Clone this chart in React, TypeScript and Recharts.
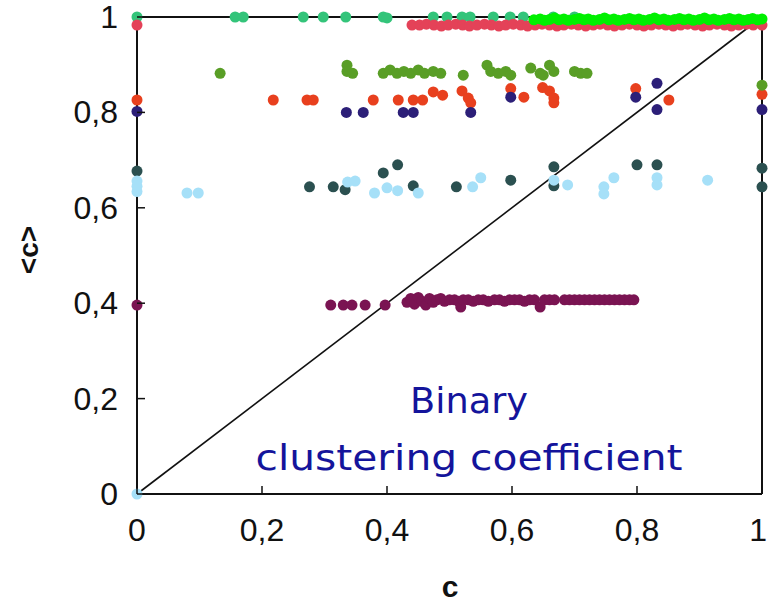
import React from "react";
import {
  ScatterChart,
  Scatter,
  XAxis,
  YAxis,
  ReferenceLine,
} from "recharts";

type Pt = [number, number];

// clustering coefficient c vs. average <c>, one list per network
const tealPts: Pt[] = [
  [0, 1], [0.157, 1], [0.17, 1], [0.266, 1], [0.298, 1], [0.334, 1],
  [0.394, 1], [0.4, 0.998], [0.474, 1], [0.496, 1], [0.52, 1], [0.533, 1],
  [0.57, 1], [0.597, 1], [0.618, 1], [0.666, 1], [0.7, 1],
];

const crimsonPts: Pt[] = [
  [0, 0.983], [0.44, 0.983], [0.452, 0.983], [0.463, 0.985], [0.475, 0.983],
  [0.487, 0.981], [0.498, 0.983], [0.51, 0.985], [0.521, 0.983], [0.532, 0.981],
  [0.544, 0.983], [0.556, 0.985], [0.567, 0.983], [0.579, 0.981], [0.59, 0.983],
  [0.602, 0.985], [0.614, 0.983], [0.625, 0.981], [0.637, 0.983], [0.648, 0.985],
  [0.66, 0.983], [0.672, 0.981], [0.683, 0.983], [0.695, 0.985], [0.706, 0.983],
  [0.718, 0.981], [0.73, 0.983], [0.741, 0.985], [0.753, 0.983], [0.764, 0.981],
  [0.776, 0.983], [0.788, 0.985], [0.8, 0.983], [0.811, 0.981], [0.823, 0.983],
  [0.835, 0.985], [0.846, 0.983], [0.858, 0.981], [0.87, 0.983], [0.881, 0.985],
  [0.893, 0.983], [0.905, 0.981], [0.916, 0.983], [0.928, 0.985], [0.94, 0.983],
  [0.951, 0.981], [0.963, 0.983], [0.975, 0.985], [0.986, 0.983], [1, 0.983],
];

const greenPts: Pt[] = [
  [0.635, 0.994], [0.645, 0.996], [0.652, 0.993], [0.66, 0.995], [0.668, 0.998],
  [0.675, 0.994], [0.683, 0.996], [0.69, 0.993], [0.7, 0.995], [0.708, 0.997],
  [0.715, 0.994], [0.722, 0.996], [0.73, 0.993], [0.74, 0.995], [0.748, 0.998],
  [0.755, 0.994], [0.763, 0.996], [0.77, 0.993], [0.78, 0.995], [0.788, 0.997],
  [0.795, 0.994], [0.803, 0.996], [0.81, 0.993], [0.82, 0.995], [0.828, 0.998],
  [0.835, 0.994], [0.843, 0.996], [0.85, 0.993], [0.86, 0.995], [0.868, 0.997],
  [0.875, 0.994], [0.883, 0.996], [0.89, 0.993], [0.9, 0.995], [0.908, 0.998],
  [0.915, 0.994], [0.923, 0.996], [0.93, 0.993], [0.94, 0.995], [0.948, 0.997],
  [0.955, 0.994], [0.963, 0.996], [0.97, 0.993], [0.978, 0.995], [0.985, 0.997],
  [0.993, 0.994], [1, 0.996],
];

const olivePts: Pt[] = [
  [0.133, 0.882], [0.336, 0.899], [0.336, 0.886], [0.345, 0.882],
  [0.394, 0.882], [0.405, 0.889], [0.416, 0.882], [0.427, 0.886], [0.438, 0.882],
  [0.45, 0.889], [0.46, 0.882], [0.474, 0.886], [0.486, 0.882], [0.522, 0.878],
  [0.56, 0.899], [0.566, 0.886], [0.578, 0.882], [0.59, 0.886], [0.598, 0.878],
  [0.63, 0.893], [0.645, 0.882], [0.65, 0.878], [0.66, 0.899], [0.667, 0.886],
  [0.7, 0.886], [0.71, 0.882], [0.72, 0.882], [1, 0.857],
];

const orangePts: Pt[] = [
  [0, 0.826], [0.218, 0.826], [0.272, 0.826], [0.282, 0.826], [0.378, 0.826],
  [0.418, 0.826], [0.442, 0.826], [0.457, 0.826], [0.474, 0.843], [0.489, 0.836],
  [0.52, 0.845], [0.53, 0.83], [0.534, 0.82], [0.598, 0.85], [0.619, 0.832],
  [0.649, 0.852], [0.66, 0.845], [0.667, 0.83], [0.667, 0.82], [0.798, 0.85],
  [0.851, 0.826], [1, 0.838],
];

const navyPts: Pt[] = [
  [0, 0.802], [0.335, 0.8], [0.362, 0.8], [0.426, 0.8], [0.442, 0.8],
  [0.534, 0.8], [0.598, 0.832], [0.798, 0.832], [0.832, 0.861], [0.832, 0.806],
  [1, 0.806],
];

const slatePts: Pt[] = [
  [0, 0.677], [0.276, 0.644], [0.314, 0.644], [0.333, 0.638], [0.394, 0.673],
  [0.417, 0.69], [0.442, 0.646], [0.511, 0.644], [0.598, 0.658], [0.667, 0.686],
  [0.667, 0.646], [0.8, 0.69], [0.832, 0.69], [1, 0.683], [1, 0.644],
];

const skyPts: Pt[] = [
  [0, 0], [0, 0.656], [0, 0.645], [0, 0.634], [0.08, 0.631], [0.098, 0.631],
  [0.337, 0.654], [0.349, 0.656], [0.38, 0.631], [0.4, 0.642], [0.417, 0.636],
  [0.45, 0.631], [0.537, 0.644], [0.55, 0.663], [0.667, 0.658], [0.689, 0.648],
  [0.747, 0.644], [0.747, 0.629], [0.763, 0.663], [0.832, 0.663], [0.832, 0.648],
  [0.913, 0.658],
];

const purplePts: Pt[] = [
  [0, 0.396], [0.31, 0.396], [0.33, 0.396], [0.344, 0.396], [0.365, 0.396],
  [0.397, 0.396], [0.432, 0.402], [0.438, 0.41], [0.444, 0.398], [0.45, 0.412],
  [0.456, 0.404], [0.462, 0.396], [0.468, 0.41], [0.474, 0.402], [0.48, 0.407],
  [0.486, 0.41], [0.492, 0.404], [0.5, 0.407], [0.508, 0.407], [0.515, 0.404],
  [0.518, 0.392], [0.522, 0.407], [0.53, 0.407], [0.538, 0.404], [0.546, 0.407],
  [0.554, 0.407], [0.562, 0.404], [0.572, 0.407], [0.58, 0.407], [0.588, 0.404],
  [0.596, 0.407], [0.604, 0.407], [0.612, 0.407], [0.62, 0.404], [0.628, 0.407],
  [0.636, 0.407], [0.645, 0.392], [0.652, 0.407], [0.66, 0.407], [0.668, 0.407],
  [0.684, 0.407], [0.692, 0.407], [0.7, 0.407], [0.708, 0.407], [0.716, 0.407],
  [0.724, 0.407], [0.732, 0.407], [0.74, 0.407], [0.748, 0.407], [0.756, 0.407],
  [0.764, 0.407], [0.772, 0.407], [0.78, 0.407], [0.788, 0.407], [0.795, 0.407],
];

const axisTicks = [0, 0.2, 0.4, 0.6, 0.8, 1];

const series: { name: string; pts: Pt[]; color: string }[] = [
  { name: "purple", pts: purplePts, color: "#7a1452" },
  { name: "slate", pts: slatePts, color: "#2b5050" },
  { name: "sky", pts: skyPts, color: "#a6e0f8" },
  { name: "orange", pts: orangePts, color: "#e8401e" },
  { name: "navy", pts: navyPts, color: "#2c1f78" },
  { name: "olive", pts: olivePts, color: "#599e26" },
  { name: "teal", pts: tealPts, color: "#33c47a" },
  { name: "crimson", pts: crimsonPts, color: "#e44258" },
  { name: "green", pts: greenPts, color: "#00f000" },
];

const fmt = (v: number) => String(v).replace(".", ",");
const TICK_FONT = "'Liberation Sans', Arial, sans-serif";
const NOTE_FONT = "'DejaVu Sans', sans-serif";
const TICK_LEN = 8;

const BottomTick = (p: any) => (
  <g>
    <line x1={p.x} y1={p.y} x2={p.x} y2={p.y - TICK_LEN} stroke="#111" strokeWidth={1.5} />
    <text
      x={p.payload.value === 1 ? p.x + 5 : p.x}
      y={p.y + 47}
      textAnchor={p.payload.value === 1 ? "end" : "middle"}
      fontFamily={TICK_FONT}
      fontSize={32}
      fill="#111"
    >
      {fmt(p.payload.value)}
    </text>
  </g>
);

const LeftTick = (p: any) => (
  <g>
    <line x1={p.x} y1={p.y} x2={p.x + TICK_LEN} y2={p.y} stroke="#111" strokeWidth={1.5} />
    <text x={p.x - 19} y={p.y + 11} textAnchor="end" fontFamily={TICK_FONT} fontSize={32} fill="#111">
      {fmt(p.payload.value)}
    </text>
  </g>
);

const TopTick = (p: any) => (
  <line x1={p.x} y1={p.y} x2={p.x} y2={p.y + TICK_LEN} stroke="#111" strokeWidth={1.5} />
);

const RightTick = (p: any) => (
  <line x1={p.x} y1={p.y} x2={p.x - TICK_LEN} y2={p.y} stroke="#111" strokeWidth={1.5} />
);

const dot = (color: string) => (p: any) => <circle cx={p.cx} cy={p.cy} r={5.5} fill={color} />;

export default function App() {
  const axisLine = { stroke: "#111", strokeWidth: 2 };
  return (
    <div style={{ position: "absolute", left: 0, top: 0, width: 768, height: 611, background: "#fff" }}>
      <ScatterChart width={768} height={611} margin={{ top: 16, right: 5, bottom: 0, left: 0 }}>
        <XAxis
          xAxisId={0}
          type="number"
          dataKey="c"
          domain={[0, 1]}
          ticks={axisTicks}
          height={117}
          axisLine={axisLine}
          tickLine={false}
          tickSize={0}
          tickMargin={0}
          tick={BottomTick}
        />
        <XAxis
          xAxisId="top"
          orientation="top"
          type="number"
          dataKey="c"
          domain={[0, 1]}
          ticks={axisTicks}
          height={1}
          axisLine={axisLine}
          tickLine={false}
          tickSize={0}
          tickMargin={0}
          tick={TopTick}
        />
        <YAxis
          yAxisId={0}
          type="number"
          dataKey="v"
          domain={[0, 1]}
          ticks={axisTicks}
          width={137}
          axisLine={axisLine}
          tickLine={false}
          tickSize={0}
          tickMargin={0}
          tick={LeftTick}
        />
        <YAxis
          yAxisId="right"
          orientation="right"
          type="number"
          dataKey="v"
          domain={[0, 1]}
          ticks={axisTicks}
          width={1}
          axisLine={axisLine}
          tickLine={false}
          tickSize={0}
          tickMargin={0}
          tick={RightTick}
        />
        {/* empty series so the mirrored frame axes get drawn */}
        <Scatter
          name="frame"
          xAxisId="top"
          yAxisId="right"
          data={[]}
          isAnimationActive={false}
        />
        {series.map((s) => (
          <Scatter
            key={s.name}
            name={s.name}
            data={s.pts.map(([c, v]) => ({ c, v }))}
            shape={dot(s.color)}
            isAnimationActive={false}
          />
        ))}
        <ReferenceLine
          segment={[{ x: 0, y: 0 }, { x: 1, y: 1 }]}
          stroke="#111"
          strokeWidth={1.6}
          ifOverflow="visible"
        />
      </ScatterChart>
      <svg
        width={768}
        height={611}
        style={{ position: "absolute", left: 0, top: 0, pointerEvents: "none" }}
      >
        <text
          transform="translate(38 250) rotate(-90)"
          textAnchor="middle"
          fontFamily={TICK_FONT}
          fontWeight="bold"
          fontSize={28}
          fill="#111"
        >
          {"<c>"}
        </text>
        <text x={450} y={597} textAnchor="middle" fontFamily={TICK_FONT} fontWeight="bold" fontSize={30} fill="#111">
          c
        </text>
        <text
          x={469}
          y={413}
          textAnchor="middle"
          fontFamily={NOTE_FONT}
          fontSize={36}
          fill="#14149b"
          textLength={118}
          lengthAdjust="spacingAndGlyphs"
        >
          Binary
        </text>
        <text
          x={469}
          y={470}
          textAnchor="middle"
          fontFamily={NOTE_FONT}
          fontSize={36}
          fill="#14149b"
          textLength={427}
          lengthAdjust="spacingAndGlyphs"
        >
          clustering coefficient
        </text>
      </svg>
    </div>
  );
}
